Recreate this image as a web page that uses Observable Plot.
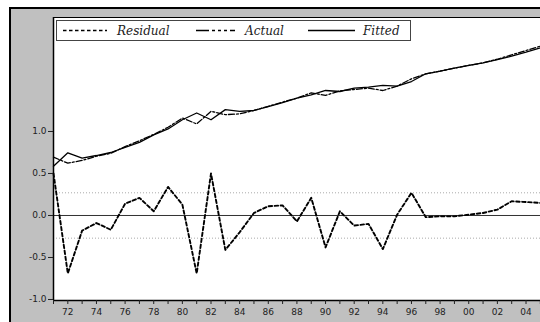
<!DOCTYPE html>
<html>
<head>
<meta charset="utf-8">
<script src="https://cdn.jsdelivr.net/npm/d3@7"></script>
<script src="https://cdn.jsdelivr.net/npm/@observablehq/plot@0.6"></script>
<style>
  html, body { margin: 0; padding: 0; background: #fff; width: 540px; height: 322px; overflow: hidden; }
  #bg { position: absolute; left: 9px; top: 7px; width: 531px; height: 315px;
        background: #c0c0c0; border-left: 2px solid #000; border-top: 2px solid #000; box-sizing: border-box; }
  #chart { position: absolute; left: 0; top: 0; width: 540px; }
  #chart svg { width: 540px; max-width: none; }
  #legend { position: absolute; left: 0; top: 0; }
</style>
</head>
<body>
<div id="bg"></div>
<div id="chart"></div>
<svg id="legend" width="540" height="60"></svg>
<script>
// Years 1971–2005
const years = d3.range(1971, 2006);

// Residual (left axis)
const residual = [
  0.50, -0.69, -0.18, -0.09, -0.17, 0.14, 0.21, 0.05, 0.34, 0.13,
  -0.69, 0.50, -0.41, -0.20, 0.03, 0.11, 0.12, -0.07, 0.21, -0.38,
  0.05, -0.12, -0.10, -0.40, 0.01, 0.27, -0.02, -0.01, -0.01, 0.01,
  0.03, 0.07, 0.17, 0.16, 0.15
];

// Actual (right-axis series, expressed in picture units)
const actual = [
  0.694, 0.623, 0.655, 0.706, 0.740, 0.820, 0.890, 0.965, 1.050, 1.160,
  1.090, 1.240, 1.200, 1.210, 1.250, 1.300, 1.350, 1.397, 1.460, 1.430,
  1.484, 1.500, 1.516, 1.488, 1.540, 1.627, 1.687, 1.718, 1.754, 1.786,
  1.817, 1.860, 1.913, 1.964, 2.016
];

// Fitted
const fitted = [
  0.587, 0.746, 0.683, 0.714, 0.750, 0.810, 0.870, 0.960, 1.030, 1.140,
  1.220, 1.140, 1.260, 1.240, 1.250, 1.295, 1.345, 1.397, 1.437, 1.488,
  1.476, 1.516, 1.528, 1.548, 1.540, 1.595, 1.687, 1.718, 1.754, 1.786,
  1.817, 1.855, 1.897, 1.944, 1.996
];

const stdBand = [0.27, -0.27];
const yTicks = [-1.0, -0.5, 0.0, 0.5, 1.0];
const xLabelYears = d3.range(1972, 2006, 2);
const xDomain = [1971, 2005.5];
const yDomain = [-1.012, 2.357];

const resData = years.map((y, i) => ({year: y, v: residual[i]}));
const actData = years.map((y, i) => ({year: y, v: actual[i]}));
const fitData = years.map((y, i) => ({year: y, v: fitted[i]}));

const tickFont = "DejaVu Sans, sans-serif";

const chart = Plot.plot({
  width: 547,
  height: 322,
  marginLeft: 53,
  marginTop: 17,
  marginRight: 0,
  marginBottom: 22,
  style: {background: "transparent", fontFamily: tickFont, fontSize: "9px", color: "#222", overflow: "hidden"},
  x: {domain: xDomain, axis: null},
  y: {domain: yDomain, axis: null},
  marks: [
    Plot.frame({fill: "white", stroke: "none"}),
    Plot.ruleY(stdBand, {stroke: "#aaa", strokeWidth: 1, strokeDasharray: "1,2"}),
    Plot.ruleY([0], {stroke: "#333", strokeWidth: 1}),
    Plot.line(fitData, {x: "year", y: "v", stroke: "#000", strokeWidth: 1.3}),
    Plot.line(actData, {x: "year", y: "v", stroke: "#000", strokeWidth: 1.3, strokeDasharray: "6,2,2,2"}),
    Plot.line(resData, {x: "year", y: "v", stroke: "#000", strokeWidth: 1.9, strokeDasharray: "3.5,2.5"}),
    Plot.ruleY([yDomain[1]], {stroke: "#000", strokeWidth: 1.2}),
    Plot.ruleY([yDomain[0]], {stroke: "#000", strokeWidth: 1.3}),
    Plot.ruleX([xDomain[0]], {stroke: "#000", strokeWidth: 1.5}),
    Plot.axisY({ticks: yTicks, tickSize: 5, tickPadding: 2, tickFormat: d => d.toFixed(1), label: null, fontSize: 9}),
    Plot.axisX({ticks: years, tickSize: 4, tickFormat: () => "", label: null}),
    Plot.axisX({ticks: xLabelYears, tickSize: 0, tickPadding: 8, tickFormat: d => String(d % 100).padStart(2, "0"), label: null, fontSize: 9})
  ]
});
chart.style.width = "547px";
document.getElementById("chart").appendChild(chart);

// Legend box
const lg = d3.select("#legend");
lg.append("rect").attr("x", 56.5).attr("y", 20.5).attr("width", 354).attr("height", 20)
  .attr("fill", "white").attr("stroke", "#444").attr("stroke-width", 1);
const items = [
  {label: "Residual", x0: 63, x1: 107, tx: 117, dash: "3.5,2.5", w: 1.5},
  {label: "Actual", x0: 196, x1: 235, tx: 245, dash: "13,3,3,3,3,3,3,3", w: 1.3},
  {label: "Fitted", x0: 308, x1: 355, tx: 363, dash: null, w: 1.3}
];
for (const it of items) {
  const l = lg.append("line").attr("x1", it.x0).attr("x2", it.x1).attr("y1", 30.5).attr("y2", 30.5)
    .attr("stroke", "#000").attr("stroke-width", it.w);
  if (it.dash) l.attr("stroke-dasharray", it.dash);
  lg.append("text").attr("x", it.tx).attr("y", 35).text(it.label)
    .attr("font-family", "DejaVu Serif, serif").attr("font-style", "italic")
    .attr("font-size", "12px").attr("fill", "#222");
}
</script>
</body>
</html>
